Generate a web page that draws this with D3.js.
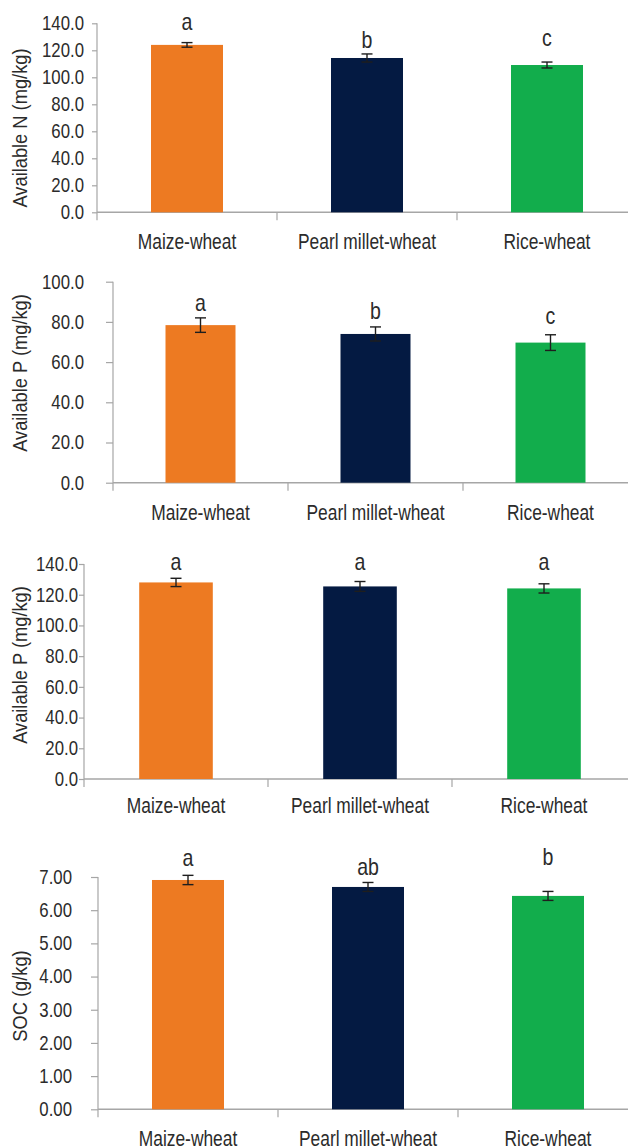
<!DOCTYPE html>
<html><head><meta charset="utf-8">
<script src="https://cdn.jsdelivr.net/npm/d3@7"></script>
<style>
html,body{margin:0;padding:0;background:#fff;}
svg{display:block;}
</style></head>
<body>
<svg id="chart" width="628" height="1146"></svg>
<script>
// ---- data ----
const categories = ["Maize-wheat", "Pearl millet-wheat", "Rice-wheat"];
const colors = ["#ED7A22", "#041A42", "#12AD4C"];

const nValues = [124.0, 114.3, 109.1];
const nErrors = [1.7, 3.0, 2.2];
const nLetters = ["a", "b", "c"];
const nLetterAt = [135.0, 121.7, 123.2];
const nTicks = [0, 20, 40, 60, 80, 100, 120, 140];

const pValues = [78.4, 74.0, 69.7];
const pErrors = [3.6, 3.5, 3.9];
const pLetters = ["a", "b", "c"];
const pLetterAt = [85.5, 81.3, 79.2];
const pTicks = [0, 20, 40, 60, 80, 100];

const p2Values = [128.0, 125.4, 124.1];
const p2Errors = [2.7, 3.2, 3.0];
const p2Letters = ["a", "a", "a"];
const p2LetterAt = [136.1, 136.1, 136.1];
const p2Ticks = [0, 20, 40, 60, 80, 100, 120, 140];

const socValues = [6.91, 6.70, 6.43];
const socErrors = [0.14, 0.135, 0.135];
const socLetters = ["a", "ab", "b"];
const socLetterAt = [7.33, 7.06, 7.36];
const socTicks = [0, 1, 2, 3, 4, 5, 6, 7];

// ---- panels (data + layout) ----
const panels = [
  {label: "Available N (mg/kg)", values: nValues, errors: nErrors, letters: nLetters, letterAt: nLetterAt, ticks: nTicks, fmt: ".1f",
   axisX: 97, step: 180, yTop: 23.3, y0: 212.3, tickLen: 5, labelRight: 84, yLabelY: 128, xLabelDy: 36.5},
  {label: "Available P (mg/kg)", values: pValues, errors: pErrors, letters: pLetters, letterAt: pLetterAt, ticks: pTicks, fmt: ".1f",
   axisX: 113, step: 175, yTop: 281.7, y0: 482.7, tickLen: 7, labelRight: 84, yLabelY: 373, xLabelDy: 37},
  {label: "Available P (mg/kg)", values: p2Values, errors: p2Errors, letters: p2Letters, letterAt: p2LetterAt, ticks: p2Ticks, fmt: ".1f",
   axisX: 84, step: 184, yTop: 564, y0: 779, tickLen: 5, labelRight: 78, yLabelY: 665, xLabelDy: 34},
  {label: "SOC (g/kg)", values: socValues, errors: socErrors, letters: socLetters, letterAt: socLetterAt, ticks: socTicks, fmt: ".2f",
   axisX: 98, step: 180, yTop: 877, y0: 1109.3, tickLen: 7, labelRight: 72, yLabelY: 996, xLabelDy: 36.5}
];

const FONT = "'Liberation Sans','Arial',sans-serif";
const TEXT = "#2b2b2b";
const AXIS = "#a6a6a6";
const svg = d3.select("#chart");

// condensed text placed at (x, y)
function ctext(g, x, y, txt, size, sx, rot) {
  return g.append("text")
    .attr("transform", `translate(${x},${y})${rot ? " rotate(" + rot + ")" : ""} scale(${sx},1)`)
    .attr("fill", TEXT).style("font-family", FONT).style("font-size", size + "px")
    .attr("text-anchor", "middle").text(txt);
}

panels.forEach(p => {
  const g = svg.append("g");
  const x = d3.scaleBand().domain(categories).range([p.axisX, p.axisX + 3 * p.step]).padding(0);
  const y = d3.scaleLinear().domain([0, d3.max(p.ticks)]).range([p.y0, p.yTop]);
  const bw = x.bandwidth() * 0.4;
  const cx = d => x(d) + x.bandwidth() / 2;

  // y axis
  const TSX = 0.84;
  const ya = g.append("g").attr("transform", `translate(${p.axisX},0)`)
    .call(d3.axisLeft(y).tickValues(p.ticks).tickFormat(d3.format(p.fmt))
      .tickSize(p.tickLen).tickPadding(p.axisX - p.labelRight - p.tickLen));
  ya.select(".domain").remove();
  ya.selectAll(".tick line").attr("stroke", AXIS).attr("stroke-width", 1.2);
  ya.selectAll(".tick text")
    .attr("x", -(p.axisX - p.labelRight) / TSX)
    .attr("transform", `scale(${TSX},1)`)
    .attr("fill", TEXT).style("font-family", FONT).style("font-size", "20px");
  g.append("line").attr("x1", p.axisX).attr("x2", p.axisX).attr("y1", p.yTop).attr("y2", p.y0 + 8)
    .attr("stroke", AXIS).attr("stroke-width", 1.2);

  // x axis
  g.append("line").attr("x1", p.axisX).attr("x2", 628).attr("y1", p.y0).attr("y2", p.y0)
    .attr("stroke", AXIS).attr("stroke-width", 1.5);
  g.selectAll(".xtick").data(categories.slice(1)).enter().append("line")
    .attr("x1", d => x(d)).attr("x2", d => x(d)).attr("y1", p.y0).attr("y2", p.y0 + 8)
    .attr("stroke", AXIS).attr("stroke-width", 1.2);
  categories.forEach(c => ctext(g, cx(c), p.y0 + p.xLabelDy, c, 22, 0.79));

  // y label
  ctext(g, 27, p.yLabelY, p.label, 21, 0.87, -90);

  // bars
  g.selectAll(".bar").data(categories).enter().append("rect")
    .attr("x", d => x(d) + (x.bandwidth() - bw) / 2)
    .attr("width", bw)
    .attr("y", (d, i) => y(p.values[i]))
    .attr("height", (d, i) => p.y0 - y(p.values[i]))
    .attr("fill", (d, i) => colors[i]);

  // error bars
  categories.forEach((c, i) => {
    const hi = y(p.values[i] + p.errors[i]), lo = y(p.values[i] - p.errors[i]);
    const eg = g.append("g").attr("stroke", "#1e1e1e").attr("stroke-width", 1.4);
    eg.append("line").attr("x1", cx(c)).attr("x2", cx(c)).attr("y1", hi).attr("y2", lo);
    eg.append("line").attr("x1", cx(c) - 5.5).attr("x2", cx(c) + 5.5).attr("y1", hi).attr("y2", hi);
    eg.append("line").attr("x1", cx(c) - 5.5).attr("x2", cx(c) + 5.5).attr("y1", lo).attr("y2", lo);
  });

  // significance letters
  categories.forEach((c, i) => ctext(g, cx(c), y(p.letterAt[i]), p.letters[i], 23, 0.85));
});
</script>
</body></html>
